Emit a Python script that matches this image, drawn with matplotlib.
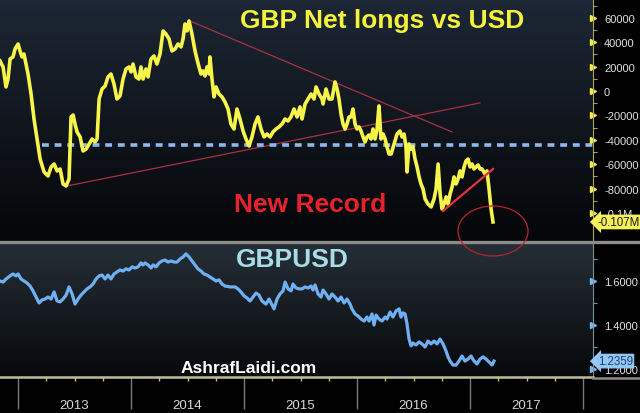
import numpy as np
import matplotlib
matplotlib.use("Agg")
import matplotlib.pyplot as plt
import matplotlib.transforms as mtransforms
from matplotlib.patches import Ellipse
from matplotlib.lines import Line2D

plt.rcParams['font.family'] = ['Liberation Sans', 'DejaVu Sans']

# GBP net speculative positions (thousands of contracts) by decimal year
cot_year = [2012.840, 2012.867, 2012.893, 2012.911, 2012.929, 2012.955, 2012.973, 2013.000, 2013.017, 2013.035,
            2013.052, 2013.070, 2013.088, 2013.115, 2013.141, 2013.168, 2013.195, 2013.230, 2013.265, 2013.292,
            2013.319, 2013.345, 2013.372, 2013.398, 2013.425, 2013.451, 2013.469, 2013.487, 2013.504, 2013.522,
            2013.549, 2013.575, 2013.602, 2013.628, 2013.655, 2013.681, 2013.699, 2013.717, 2013.743, 2013.770,
            2013.796, 2013.822, 2013.849, 2013.875, 2013.902, 2013.929, 2013.955, 2013.982, 2014.000, 2014.017,
            2014.044, 2014.070, 2014.088, 2014.106, 2014.132, 2014.150, 2014.176, 2014.203, 2014.229, 2014.256,
            2014.283, 2014.309, 2014.336, 2014.362, 2014.389, 2014.415, 2014.442, 2014.460, 2014.477, 2014.495,
            2014.513, 2014.539, 2014.566, 2014.583, 2014.601, 2014.619, 2014.636, 2014.654, 2014.672, 2014.690,
            2014.698, 2014.716, 2014.734, 2014.752, 2014.778, 2014.805, 2014.831, 2014.858, 2014.884, 2014.911,
            2014.937, 2014.964, 2014.991, 2015.017, 2015.044, 2015.070, 2015.097, 2015.123, 2015.150, 2015.177,
            2015.203, 2015.230, 2015.256, 2015.283, 2015.309, 2015.336, 2015.362, 2015.389, 2015.415, 2015.442,
            2015.469, 2015.495, 2015.513, 2015.540, 2015.566, 2015.593, 2015.619, 2015.637, 2015.663, 2015.690,
            2015.699, 2015.725, 2015.752, 2015.778, 2015.805, 2015.823, 2015.840, 2015.858, 2015.876, 2015.894,
            2015.911, 2015.929, 2015.947, 2015.964, 2015.982, 2016.000, 2016.018, 2016.035, 2016.053, 2016.071,
            2016.088, 2016.106, 2016.124, 2016.141, 2016.159, 2016.177, 2016.194, 2016.212, 2016.230, 2016.248,
            2016.265, 2016.283, 2016.301, 2016.327, 2016.354, 2016.380, 2016.398, 2016.416, 2016.433, 2016.442,
            2016.460, 2016.478, 2016.495, 2016.513, 2016.531, 2016.549, 2016.566, 2016.584, 2016.602, 2016.628,
            2016.655, 2016.681, 2016.699, 2016.717, 2016.735, 2016.752, 2016.770, 2016.788, 2016.805, 2016.823,
            2016.841, 2016.858, 2016.876, 2016.894, 2016.911, 2016.929, 2016.947, 2016.964, 2016.982, 2017.000,
            2017.018, 2017.035, 2017.053, 2017.071, 2017.088, 2017.106, 2017.133, 2017.150, 2017.168, 2017.186,
            2017.203]
cot_net = [24.6, 19.7, 3.3, 9.8, 26.2, 27.9, 34.4, 38.5, 32.8, 27.9,
           30.3, 22.1, 13.9, -2.5, -23.0, -39.4, -55.8, -66.4, -69.7, -62.3,
           -59.9, -65.6, -64.0, -76.3, -77.9, -72.2, -21.3, -19.7, -27.1, -33.6,
           -37.7, -49.2, -47.6, -43.5, -39.4, -41.8, -39.4, -6.6, 1.6, 4.1,
           11.5, 13.9, 5.7, -6.6, -4.1, 9.8, 18.0, 19.7, 15.6, 22.1,
           11.5, 9.8, 19.7, 9.8, 18.0, 11.5, 26.2, 28.7, 22.1, 30.3,
           49.2, 46.7, 42.6, 32.8, 34.4, 38.5, 36.1, 42.6, 54.9, 49.2,
           57.4, 46.7, 32.8, 26.2, 19.7, 13.9, 16.4, 12.3, 19.7, 13.9,
           27.9, 9.8, -4.9, 3.3, -2.5, -4.9, -9.0, -14.8, -27.1, -31.2,
           -14.8, -23.0, -32.8, -39.4, -45.1, -37.7, -27.1, -21.3, -31.2, -37.7,
           -35.3, -37.7, -33.6, -31.2, -29.5, -27.1, -23.0, -24.6, -21.3, -14.8,
           -21.3, -13.1, -23.0, -10.7, -6.6, -2.5, -6.6, 3.3, -2.5, -6.6,
           -10.7, 1.6, -6.6, -6.6, 7.4, 1.6, -6.6, -18.9, -27.1, -31.2,
           -27.1, -21.3, -21.3, -14.8, -27.1, -31.2, -29.5, -32.8, -37.7, -41.8,
           -37.7, -36.1, -39.4, -31.2, -39.4, -31.2, -12.3, -39.4, -35.3, -39.4,
           -45.9, -51.7, -51.7, -43.5, -35.3, -32.8, -37.7, -35.3, -45.9, -66.4,
           -43.5, -47.6, -45.9, -55.8, -62.3, -70.5, -76.3, -80.4, -88.6, -92.7,
           -95.1, -88.6, -80.4, -59.9, -84.5, -96.8, -92.7, -86.9, -92.7, -84.5,
           -78.7, -70.5, -76.3, -72.2, -65.6, -70.5, -62.3, -57.4, -55.8, -62.3,
           -59.9, -64.0, -62.3, -60.7, -64.0, -64.0, -68.1, -65.6, -80.4, -96.8,
           -107.4]

# GBPUSD spot
fx_year = [2012.840, 2012.867, 2012.893, 2012.929, 2012.955, 2012.982, 2013.000, 2013.026, 2013.052, 2013.079,
           2013.106, 2013.132, 2013.159, 2013.186, 2013.212, 2013.239, 2013.265, 2013.292, 2013.319, 2013.345,
           2013.372, 2013.398, 2013.425, 2013.451, 2013.478, 2013.504, 2013.531, 2013.557, 2013.584, 2013.610,
           2013.637, 2013.663, 2013.690, 2013.717, 2013.743, 2013.770, 2013.796, 2013.822, 2013.849, 2013.875,
           2013.902, 2013.929, 2013.955, 2013.982, 2014.009, 2014.035, 2014.062, 2014.088, 2014.106, 2014.124,
           2014.150, 2014.177, 2014.195, 2014.221, 2014.248, 2014.274, 2014.301, 2014.327, 2014.354, 2014.380,
           2014.407, 2014.433, 2014.460, 2014.486, 2014.513, 2014.539, 2014.566, 2014.592, 2014.619, 2014.645,
           2014.672, 2014.698, 2014.725, 2014.752, 2014.778, 2014.805, 2014.831, 2014.876, 2014.920, 2014.946,
           2014.973, 2015.000, 2015.026, 2015.052, 2015.079, 2015.106, 2015.132, 2015.159, 2015.194, 2015.221,
           2015.248, 2015.265, 2015.292, 2015.318, 2015.345, 2015.363, 2015.389, 2015.416, 2015.433, 2015.460,
           2015.486, 2015.513, 2015.540, 2015.566, 2015.593, 2015.610, 2015.628, 2015.655, 2015.681, 2015.699,
           2015.725, 2015.752, 2015.778, 2015.805, 2015.832, 2015.858, 2015.885, 2015.911, 2015.938, 2015.955,
           2015.982, 2016.008, 2016.035, 2016.062, 2016.088, 2016.106, 2016.132, 2016.150, 2016.168, 2016.194,
           2016.221, 2016.248, 2016.265, 2016.292, 2016.318, 2016.345, 2016.372, 2016.389, 2016.407, 2016.425,
           2016.442, 2016.460, 2016.478, 2016.495, 2016.522, 2016.548, 2016.575, 2016.602, 2016.628, 2016.655,
           2016.681, 2016.708, 2016.734, 2016.761, 2016.787, 2016.805, 2016.823, 2016.849, 2016.876, 2016.902,
           2016.929, 2016.955, 2016.982, 2017.008, 2017.035, 2017.062, 2017.088, 2017.115, 2017.141, 2017.168,
           2017.195, 2017.212]
fx_close = [1.600, 1.595, 1.609, 1.623, 1.632, 1.623, 1.632, 1.609, 1.600, 1.591,
            1.577, 1.555, 1.527, 1.500, 1.514, 1.518, 1.527, 1.518, 1.550, 1.509,
            1.505, 1.518, 1.536, 1.573, 1.541, 1.495, 1.518, 1.536, 1.550, 1.564,
            1.573, 1.586, 1.609, 1.623, 1.627, 1.609, 1.627, 1.609, 1.632, 1.641,
            1.650, 1.645, 1.655, 1.650, 1.664, 1.659, 1.664, 1.682, 1.673, 1.682,
            1.673, 1.659, 1.673, 1.664, 1.682, 1.691, 1.695, 1.686, 1.691, 1.686,
            1.686, 1.700, 1.709, 1.723, 1.709, 1.691, 1.673, 1.655, 1.645, 1.632,
            1.627, 1.618, 1.609, 1.600, 1.605, 1.586, 1.577, 1.573, 1.573, 1.564,
            1.550, 1.532, 1.523, 1.509, 1.527, 1.545, 1.536, 1.509, 1.495, 1.518,
            1.491, 1.473, 1.518, 1.541, 1.555, 1.595, 1.564, 1.555, 1.586, 1.568,
            1.564, 1.564, 1.573, 1.568, 1.577, 1.559, 1.582, 1.541, 1.527, 1.559,
            1.541, 1.518, 1.541, 1.527, 1.509, 1.527, 1.500, 1.518, 1.495, 1.473,
            1.450, 1.441, 1.427, 1.418, 1.436, 1.418, 1.450, 1.400, 1.445, 1.427,
            1.418, 1.436, 1.427, 1.459, 1.436, 1.464, 1.473, 1.436, 1.455, 1.450,
            1.405, 1.336, 1.305, 1.318, 1.309, 1.323, 1.314, 1.300, 1.327, 1.314,
            1.327, 1.314, 1.336, 1.314, 1.282, 1.255, 1.236, 1.218, 1.218, 1.236,
            1.259, 1.236, 1.245, 1.259, 1.236, 1.223, 1.245, 1.255, 1.245, 1.232,
            1.218, 1.2359]

# drawn-in annotations (year, thousands)
support_start = 2013.212
support_level = -44.0
lower_trend = ([2013.433, 2017.088], [-77.9, -9.8])
upper_trend = ([2014.521, 2016.840], [57.4, -33.6])
recent_trend = ([2016.760, 2017.203], [-98.4, -64.0])
record_circle = (2017.203, -114.8)

years = [2013, 2014, 2015, 2016, 2017, 2018]
top_ticks = [60, 40, 20, 0, -20, -40, -60, -80, -100]
fx_ticks = [1.6, 1.4, 1.2]

W, H = 640, 414
XLIM = (2012.84, 2018.088)
fig = plt.figure(figsize=(6.4, 4.14), dpi=100, facecolor='black')
ax1 = fig.add_axes([0, 1 - 241 / H, 593 / W, 241 / H])
ax2 = fig.add_axes([0, 1 - 378 / H, 593 / W, 133 / H])
ax1.set_zorder(3)


def gradient_bg(ax, top, bottom):
    x0, x1 = ax.get_xlim()
    y0, y1 = ax.get_ylim()
    c0 = np.array(matplotlib.colors.to_rgb(top))
    c1 = np.array(matplotlib.colors.to_rgb(bottom))
    t = np.linspace(0, 1, 200)[:, None]
    img = (c0 * (1 - t) + c1 * t)[:, None, :]
    ax.imshow(img, extent=(x0, x1, y0, y1), aspect='auto', zorder=0, origin='upper')


# ---- top panel
ax1.set_xlim(XLIM)
ax1.set_ylim(-122.2, 75.4)
gradient_bg(ax1, '#1d2735', '#050608')
ax1.patch.set_alpha(0)

ax1.plot(lower_trend[0], lower_trend[1], color='#a8323f', lw=0.9, zorder=2)
ax1.plot(upper_trend[0], upper_trend[1], color='#a8323f', lw=0.9, zorder=2)
ax1.plot([support_start, XLIM[1]], [support_level] * 2, color='#8cb9ee', lw=2.6,
         ls=(0, (1.9, 1.6)), zorder=2)
ax1.plot(cot_year, cot_net, color='#f7f54a', lw=2.6, zorder=4, solid_joinstyle='round')
ax1.plot(recent_trend[0], recent_trend[1], color='#e3343f', lw=1.6, zorder=5)
ax1.add_patch(Ellipse(record_circle, 0.62, 41, fill=False, ec='#b3262e', lw=0.9,
                      clip_on=False, zorder=6))

ax1.yaxis.tick_right()
ax1.set_yticks(top_ticks)
ax1.set_yticklabels(['-0.1M' if v == -100 else str(v * 1000) for v in top_ticks])
ax1.set_yticks(np.arange(-110, 80, 10), minor=True)
ax1.tick_params(axis='y', which='major', length=0, pad=8, labelcolor='#e2e2e2', labelsize=8)
ax1.tick_params(axis='y', which='minor', length=3, width=0.8, color='#a0a060')
ax1.set_xticks([])
for s in ['top', 'left', 'bottom']:
    ax1.spines[s].set_visible(False)
ax1.spines['right'].set_color('#a8a860')
tr1 = mtransforms.blended_transform_factory(ax1.transAxes, ax1.transData)
ax1.plot([1.0] * len(top_ticks), top_ticks, ls='none', marker='>', ms=5, color='#f0ec50',
         transform=tr1, clip_on=False)
ax1.text(1.008, cot_net[-1], '-0.107M', transform=tr1, ha='left', va='center',
         fontsize=8.3, color='#1a1a1a', clip_on=False, zorder=10,
         bbox=dict(boxstyle='larrow,pad=0.12', fc='#f4f05c', ec='none'))

# ---- bottom panel
ax2.set_xlim(XLIM)
ax2.set_ylim(1.1636, 1.768)
gradient_bg(ax2, '#252e37', '#07090b')
ax2.patch.set_alpha(0)
ax2.plot(fx_year, fx_close, color='#6fb0f2', lw=2.3, zorder=3)

ax2.yaxis.tick_right()
ax2.set_yticks(fx_ticks)
ax2.set_yticklabels([f'{v:.4f}' for v in fx_ticks])
ax2.set_yticks([1.3, 1.5, 1.7], minor=True)
ax2.tick_params(axis='y', which='major', length=0, pad=8, labelcolor='#e2e2e2', labelsize=8)
ax2.tick_params(axis='y', which='minor', length=3, width=0.8, color='#8090a0')
tr2 = mtransforms.blended_transform_factory(ax2.transAxes, ax2.transData)
ax2.plot([1.0] * len(fx_ticks), fx_ticks, ls='none', marker='>', ms=5, color='#7ab8f0',
         transform=tr2, clip_on=False)
ax2.text(1.008, fx_close[-1], f'{fx_close[-1]:.4f}', transform=tr2, ha='left', va='center',
         fontsize=8.3, color='#1c3f70', clip_on=False, zorder=10,
         bbox=dict(boxstyle='larrow,pad=0.12', fc='#94c8f4', ec='none'))

ax2.set_xticks(years)
ax2.set_xticklabels([])
ax2.set_xticks([y + q / 4 for y in years[:-1] for q in (1, 2, 3)], minor=True)
ax2.tick_params(axis='x', which='major', length=23, width=1, color='#7a7a7a', pad=0)
ax2.tick_params(axis='x', which='minor', length=3, width=1, color='#c8c070')
for s in ['top', 'left']:
    ax2.spines[s].set_visible(False)
ax2.spines['bottom'].set_color('#bdbd98')
ax2.spines['bottom'].set_linewidth(1.8)
ax2.spines['right'].set_color('#7f8c99')
trx = mtransforms.blended_transform_factory(ax2.transData, fig.transFigure)
for y in years[:-1]:
    ax2.text(y + 0.5, 1 - 409 / H, str(y), transform=trx, ha='center', va='baseline',
             fontsize=9.5, color='#d8d8d8')

# separators
fig.add_artist(Line2D([0, 1], [1 - 243 / H] * 2, transform=fig.transFigure, color='#8c8c8c', lw=2.4))
fig.add_artist(Line2D([593 / W, 1], [1 - 379 / H] * 2, transform=fig.transFigure, color='#8c8c8c', lw=1.8))

# captions
fig.text(382 / W, 1 - 28 / H, 'GBP Net longs vs USD', ha='center', va='baseline',
         fontsize=19, fontweight='bold', color='#f5f23c')
fig.text(310 / W, 1 - 212 / H, 'New Record', ha='center', va='baseline',
         fontsize=19, fontweight='bold', color='#e6232c')
fig.text(292 / W, 1 - 267 / H, 'GBPUSD', ha='center', va='baseline',
         fontsize=19, fontweight='bold', color='#a8dde8', zorder=5)
fig.text(249 / W, 1 - 373 / H, 'AshrafLaidi.com', ha='center', va='baseline',
         fontsize=12.5, fontweight='bold', color='white', zorder=5)

fig.savefig('out.png', dpi=100, facecolor='black')
